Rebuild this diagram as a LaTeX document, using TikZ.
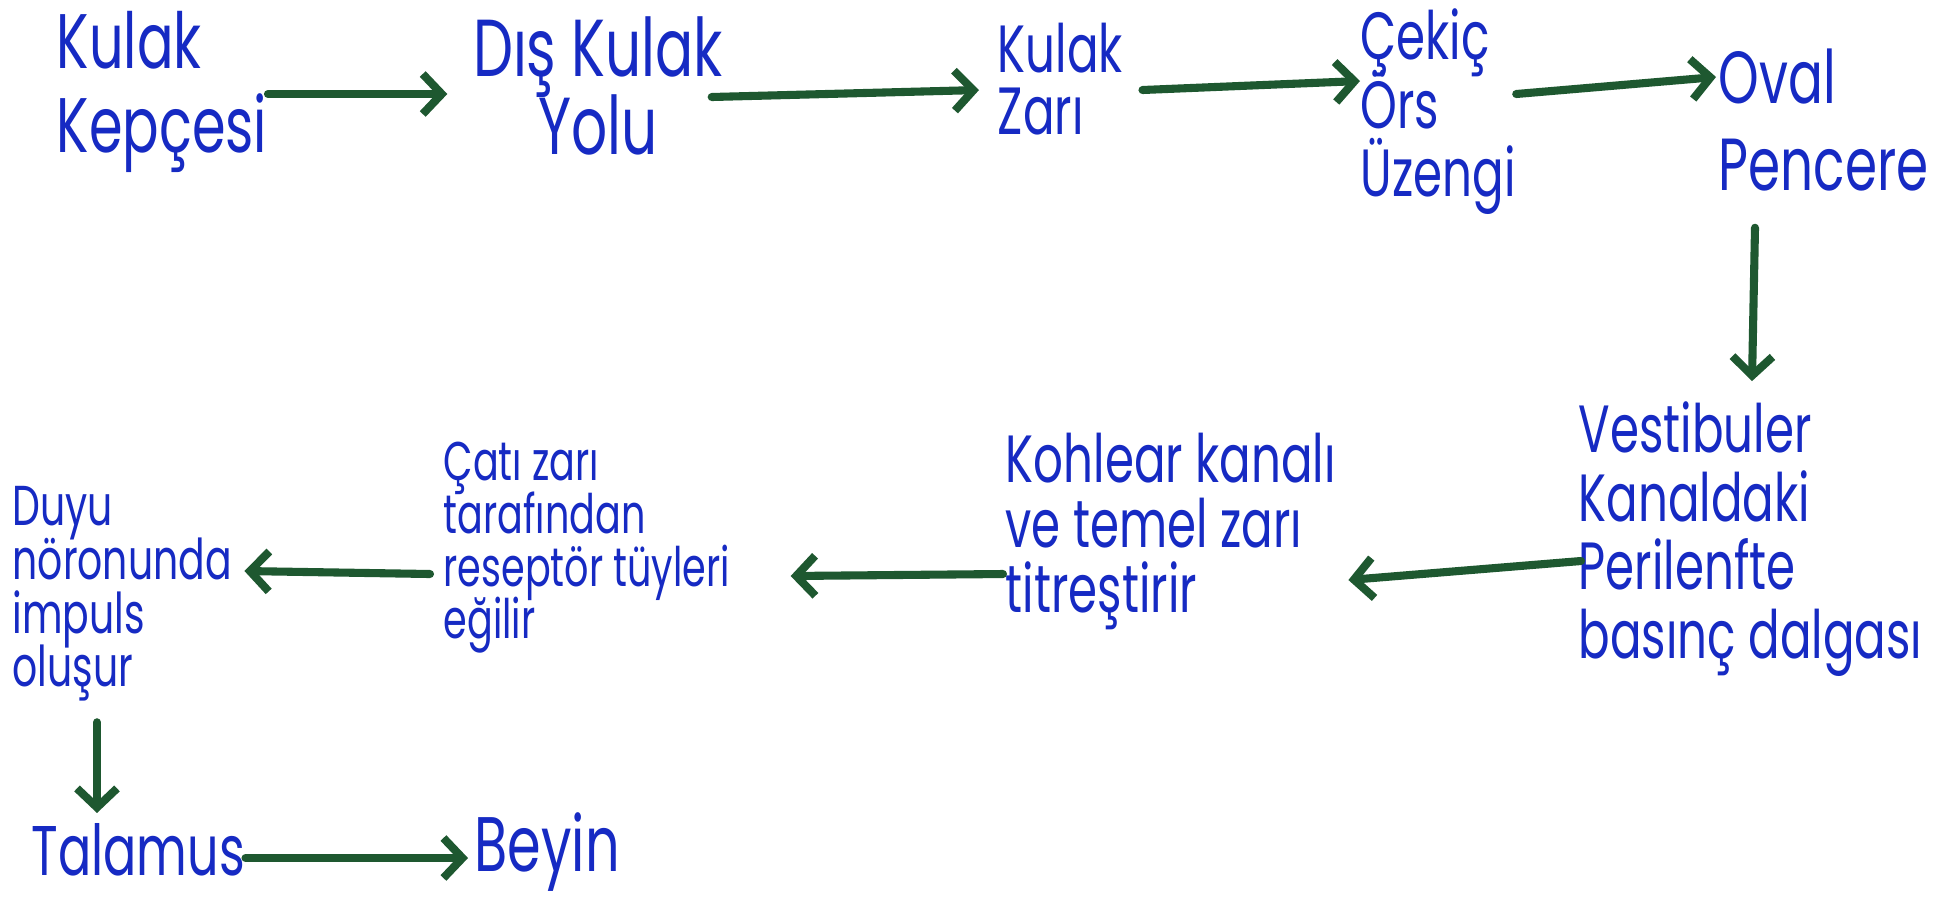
\documentclass[tikz,border=0pt]{standalone}
\usepackage{fontspec}
\newfontfamily\hand{Poppins}[FakeStretch=0.7]
\usetikzlibrary{arrows.meta,calc}
\definecolor{ink}{RGB}{22,42,195}
\definecolor{arrowgreen}{RGB}{30,88,48}
\newcommand\tightlines{\lineskiplimit=-30pt\relax\lineskip=0pt\relax}
\begin{document}
\begin{tikzpicture}[x=0.1mm,y=-0.1mm,
  txt/.style={text=ink, inner sep=0pt, align=left, anchor=west},
  fs/.style 2 args={font=\hand\fontsize{#1}{#2}\selectfont\tightlines},
  arr/.style={draw=arrowgreen, line width=2.3pt, line cap=round,
    -{Straight Barb[length=1.9mm,width=4mm]}}]
\useasboundingbox (0,0) rectangle (1955,899);
\fill[white] (0,0) rectangle (1955,899);
% nodes
\node[txt, fs={22}{24}] (kk) at (56,92) {Kulak\\Kepçesi};
\node[txt, fs={23}{22}, align=center, anchor=center] (dky) at (598,86) {Dış Kulak\\Yolu};
\node[txt, fs={19}{17.6}] (kz) at (997,79) {Kulak\\Zarı};
\node[txt, fs={19}{19.5}] (cos) at (1360,112) {Çekiç\\Örs\\Üzengi};
\node[txt, fs={21}{24.7}] (op) at (1718,120) {Oval\\Pencere};
\node[txt, fs={19}{19.5}] (vk) at (1578,539) {Vestibuler\\Kanaldaki\\Perilenfte\\basınç dalgası};
\node[txt, fs={19}{18.5}] (kh) at (1005,531) {Kohlear kanalı\\ve temel zarı\\titreştirir};
\node[txt, fs={15.5}{15}] (cz) at (443,548) {Çatı zarı\\tarafından\\reseptör tüyleri\\eğilir};
\node[txt, fs={16}{15.3}] (dn) at (12,594) {Duyu\\nöronunda\\impuls\\oluşur};
\node[txt, fs={20}{20}] (tal) at (31,850) {Talamus};
\node[txt, fs={22}{22}] (bey) at (474,852) {Beyin};
% arrows
\draw[arr] ($(kk.east)+(0,2)$) -- ($(dky.west |- kk.east)+(-25,2)$);
\draw[arr] ($(dky.east)+(-12,11)$) -- ($(kz.west)+(-18,11)$);
\draw[arr] ($(kz.east)+(19,11)$) -- ($(cos.west)+(0,-31)$);
\draw[arr] ($(cos.east)+(0,-18)$) -- ($(op.west)+(-2,-43)$);
\draw[arr] ($(op.south west)+(37,36)$) -- ($(vk.north west)+(174,-20)$);
\draw[arr] ($(vk.west)+(3,22)$) -- ($(kh.east)+(12,49)$);
\draw[arr] ($(kh.west)+(-2,43)$) -- ($(cz.east)+(60,28)$);
\draw[arr] ($(cz.west)+(-13,26)$) -- ($(dn.east)+(12,-23)$);
\draw[arr] ($(dn.south west)+(85,20)$) -- ($(tal.north west)+(66,-10)$);
\draw[arr] ($(tal.east)+(0,8)$) -- ($(bey.west)+(-6,6)$);
\end{tikzpicture}
\end{document}
